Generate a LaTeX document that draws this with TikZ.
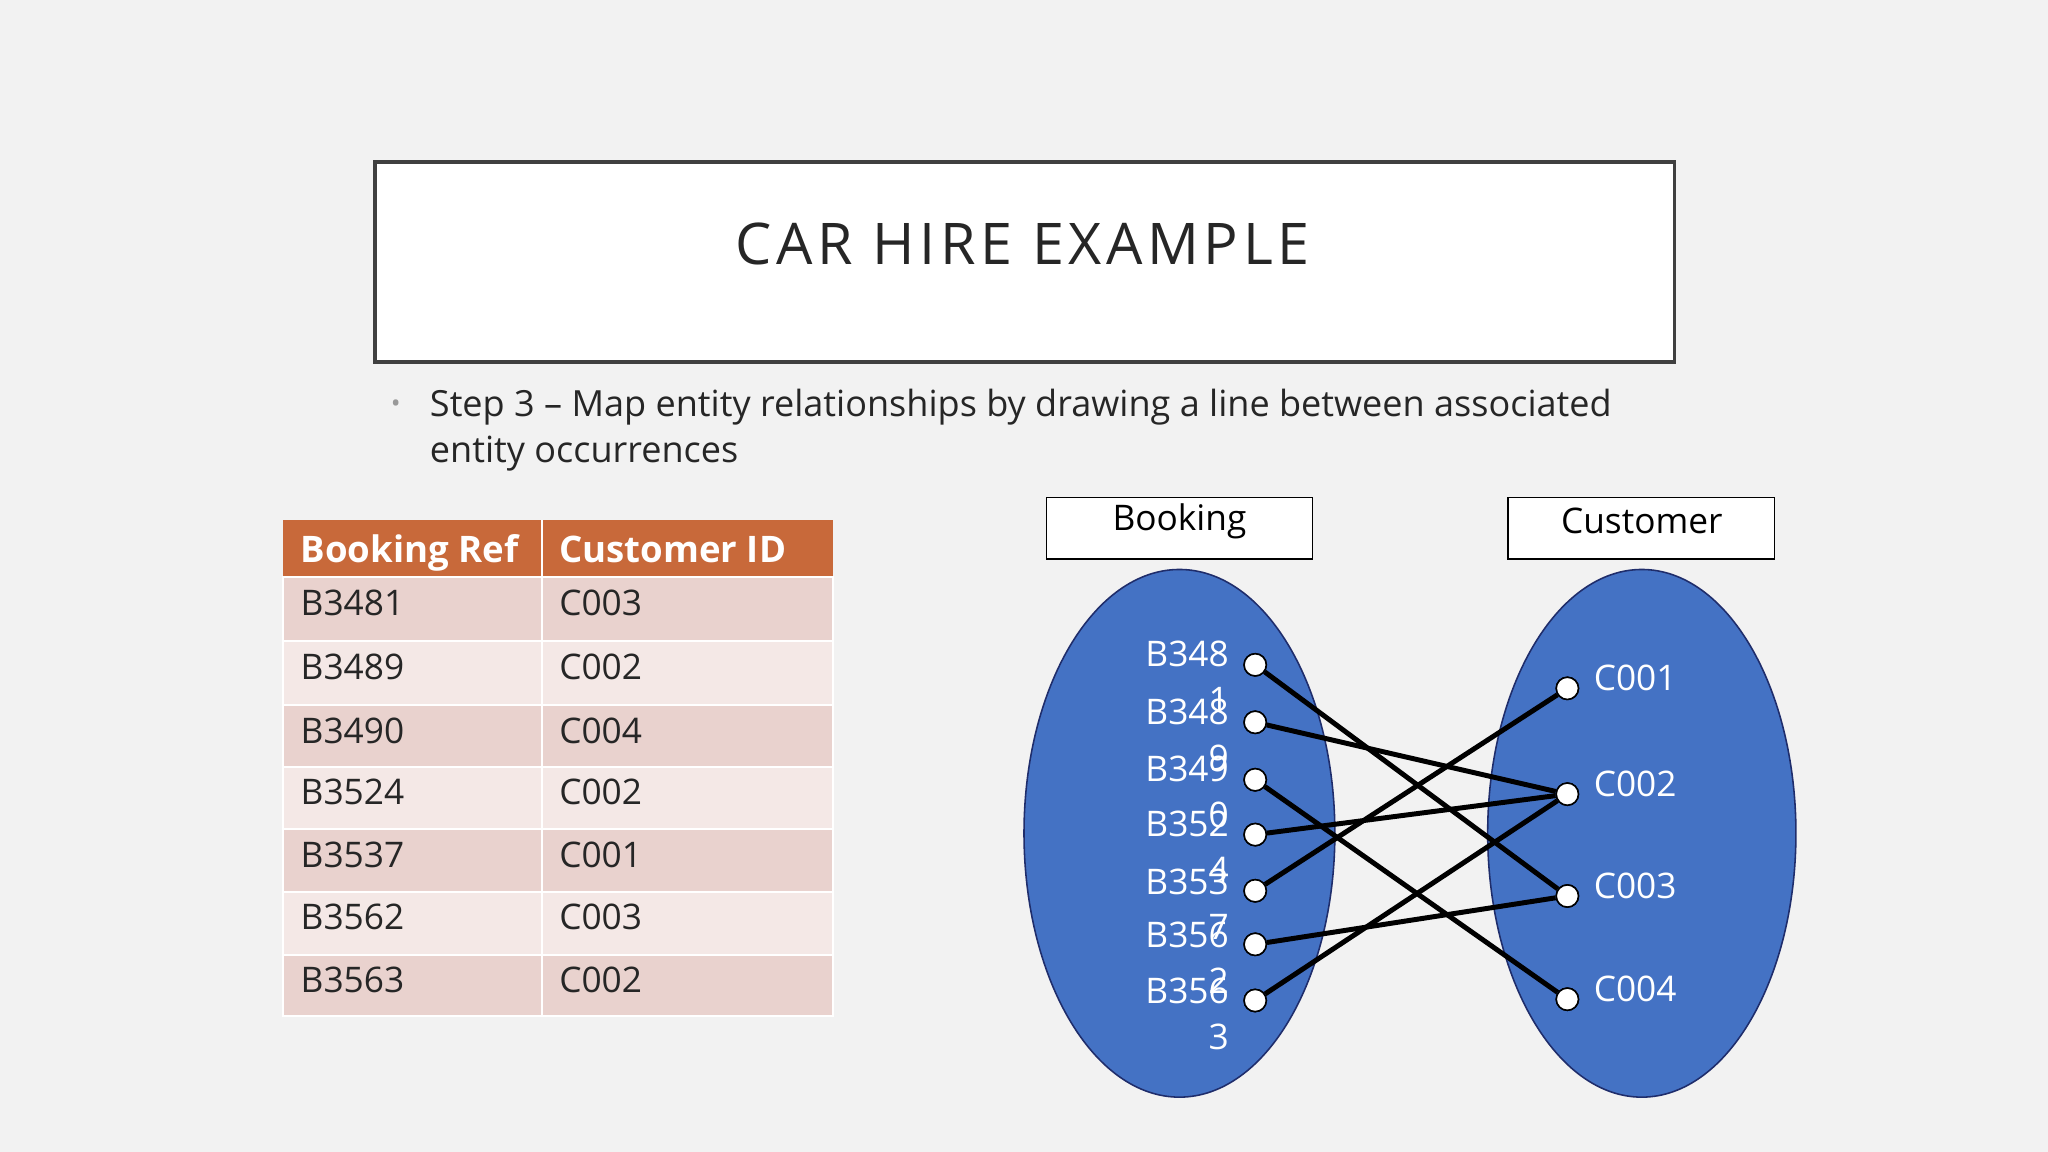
\documentclass[tikz,border=0pt]{standalone}
\usepackage{fontspec}
\setmainfont{Open Sans}
\begin{document}
\begin{tikzpicture}[x=1pt,y=-1pt,
  dot/.style={circle,draw=black,fill=white,line width=1.2pt,inner sep=0pt,minimum size=17pt},
  link/.style={line width=3.8pt,black},
  lbl/.style={text=white,font=\fontsize{27}{30}\selectfont},
  rowa/.style={fill=rowac,draw=white,line width=1.5pt},
  rowb/.style={fill=rowbc,draw=white,line width=1.5pt}]
\definecolor{bg}{HTML}{F2F2F2}
\definecolor{hdrc}{HTML}{C8693A}
\definecolor{rowac}{HTML}{E9D2CE}
\definecolor{rowbc}{HTML}{F4E8E6}
\definecolor{ell}{HTML}{4472C4}
\definecolor{navy}{HTML}{1F2D6B}
\fill[bg] (0,0) rectangle (1568,882);
\useasboundingbox (0,0) rectangle (1568,882);
% title
\node[draw=black!75,line width=3pt,fill=white,minimum width=995pt,minimum height=153pt,inner sep=0pt] (tb) at (784.5,200.5) {};
\node[font=\fontsize{44}{50}\selectfont\addfontfeature{LetterSpace=8},text=black!85] (title) at (783,187) {CAR HIRE EXAMPLE};
% bullet
\node[text=black!40,font=\fontsize{20}{24}\selectfont] (bul) at (303,311) {•};
\node[anchor=north west,align=left,text=black!85,font=\fontsize{27.6}{35}\selectfont,inner sep=0pt] (step) at (329,298) {Step 3 – Map entity relationships by drawing a line between associated\\entity occurrences};
% table
\def\ys{{442,491,540,587,635,683,731,778}}
\fill[hdrc] (217,398) rectangle (638,442);
\draw[white,line width=1.5pt] (415,398) -- (415,442);
\node[anchor=base west,text=white,font=\bfseries\fontsize{28}{30}\selectfont,inner sep=0pt] (h1) at (230,431) {Booking Ref};
\node[anchor=base west,text=white,font=\bfseries\fontsize{28}{30}\selectfont,inner sep=0pt] (h2) at (428,431) {Customer ID};
\foreach \i/\b/\c in {0/B3481/C003,1/B3489/C002,2/B3490/C004,3/B3524/C002,4/B3537/C001,5/B3562/C003,6/B3563/C002}{
  \pgfmathsetmacro\ya{\ys[\i]}
  \pgfmathsetmacro\yb{\ys[\i+1]}
  \pgfmathparse{mod(\i,2)==0?1:0}
  \ifnum\pgfmathresult=1 \def\st{rowa}\else\def\st{rowb}\fi
  \draw[\st] (217,\ya) rectangle (415,\yb);
  \draw[\st] (415,\ya) rectangle (638,\yb);
  \node[anchor=base west,text=black!85,font=\fontsize{27}{30}\selectfont,inner sep=0pt] (tb\i) at (230,\ya+29) {\b};
  \node[anchor=base west,text=black!85,font=\fontsize{27}{30}\selectfont,inner sep=0pt] (tc\i) at (428,\ya+29) {\c};
}
% entity boxes
\node[draw=black,fill=white,line width=1pt,minimum width=204pt,minimum height=47pt,inner sep=0pt] (bk) at (903,404.5) {};
\node[font=\fontsize{27}{30}\selectfont] (bkt) at (903,399) {Booking};
\node[draw=black,fill=white,line width=1pt,minimum width=204pt,minimum height=47pt,inner sep=0pt] (cu) at (1256.5,404.5) {};
\node[font=\fontsize{27}{30}\selectfont] (cut) at (1257,399) {Customer};
% ellipses
\draw[fill=ell,draw=navy,line width=1.2pt] (903,638) ellipse [x radius=119,y radius=202];
\draw[fill=ell,draw=navy,line width=1.2pt] (1257,638) ellipse [x radius=118,y radius=202];
% booking dots & labels
\foreach \n/\y in {1/509,2/553,3/597,4/639,5/682,6/723,7/766}{
  \node[dot] (b\n) at (961,\y) {};
}
\foreach \n/\y/\t/\d in {1/501/B348/1,2/545/B348/9,3/589/B349/0,4/631/B352/4,5/675/B353/7,6/716/B356/2,7/759/B356/3}{
  \node[lbl,anchor=east,inner sep=0pt] (bl\n) at (941,\y) {\t};
  \node[lbl,inner sep=0pt] (bd\n) at (933,\y+35) {\d};
}
% customer dots & labels
\foreach \n/\y/\t in {1/527/C001,2/608/C002,3/686/C003,4/765/C004}{
  \node[dot] (c\n) at (1200,\y) {};
  \node[lbl,anchor=west,inner sep=0pt] (cl\n) at (1220,\y-8) {\t};
}
% links
\draw[link] (b1) -- (c3);
\draw[link] (b2) -- (c2);
\draw[link] (b3) -- (c4);
\draw[link] (b4) -- (c2);
\draw[link] (b5) -- (c1);
\draw[link] (b6) -- (c3);
\draw[link] (b7) -- (c2);
\foreach \n in {1,...,7}{\node[dot] at (b\n) {};}
\foreach \n in {1,...,4}{\node[dot] at (c\n) {};}
\end{tikzpicture}
\end{document}
